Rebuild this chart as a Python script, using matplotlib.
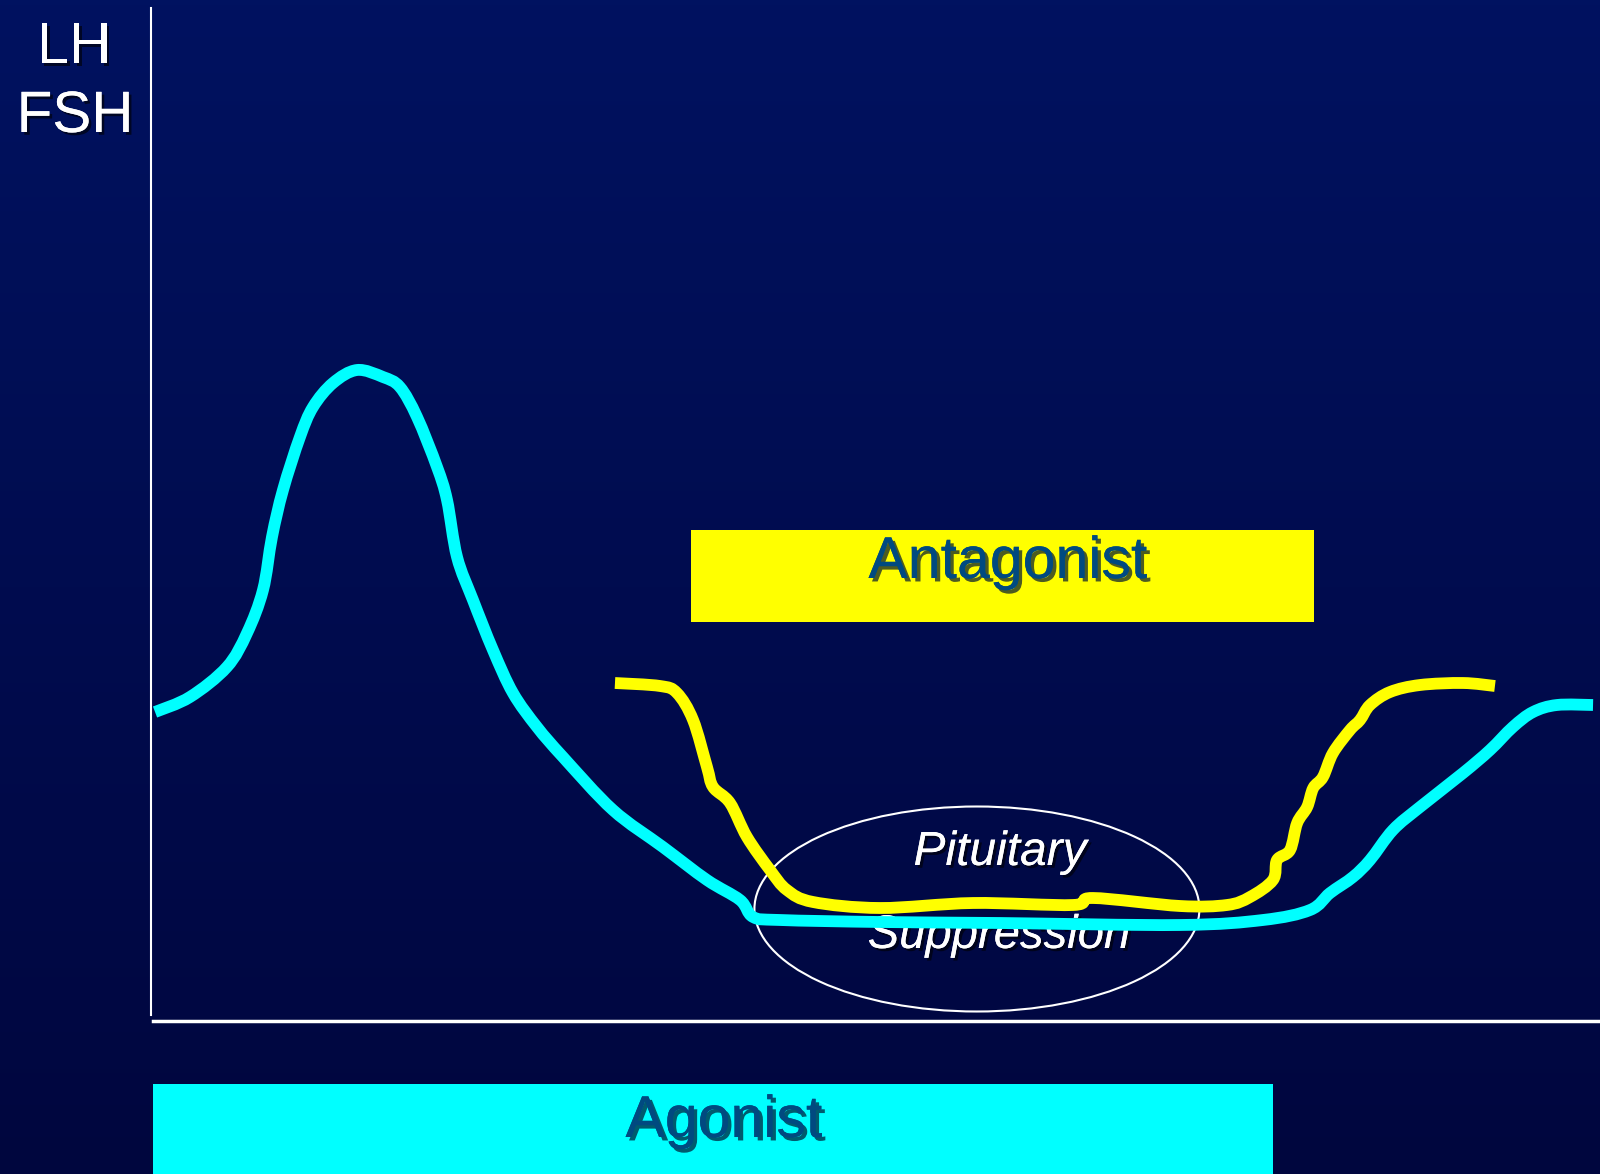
import numpy as np
import matplotlib
matplotlib.use("Agg")
import matplotlib.pyplot as plt
from matplotlib.patches import Ellipse, PathPatch
from matplotlib.path import Path
import matplotlib.patheffects as pe

plt.rcParams['font.family'] = ['Liberation Sans', 'DejaVu Sans']

# LH/FSH with agonist (cyan): flare-up, then suppression, then recovery
agonist_x = [0.28, 2.69, 5.24, 6.63, 7.73, 8.35, 9.11, 10.28, 11.18, 12.56, 14.22,
             16.01, 17.18, 18.36, 19.74, 20.43, 21.12, 22.22, 23.60, 24.98, 26.64,
             28.43, 31.88, 35.33, 38.37, 40.65, 41.55, 43.41, 50.31, 58.59, 71.01,
             76.74, 79.99, 81.37, 82.95, 84.13, 85.71, 87.58, 90.55, 92.41, 93.99,
             95.38, 97.03, 99.52]
agonist_y = [30.9, 32.4, 35.4, 38.8, 43.1, 48.4, 53.1, 58.4, 61.4, 63.8, 65.1,
             64.4, 63.4, 60.4, 55.4, 52.1, 46.4, 42.1, 37.1, 32.8, 29.4,
             26.4, 21.1, 17.4, 14.1, 12.1, 10.4, 10.1, 9.9, 9.8, 9.6,
             10.1, 11.1, 12.8, 14.4, 16.1, 19.1, 21.4, 24.8, 27.1, 29.4,
             30.9, 31.6, 31.6]

# LH/FSH with antagonist (yellow): immediate suppression, then recovery
antag_x = [32.02, 35.13, 36.30, 37.41, 38.37, 38.79, 39.96, 41.13, 42.72, 43.89,
           45.69, 50.31, 56.73, 63.63, 65.01, 71.01, 74.26, 75.85, 77.43, 77.71,
           78.61, 79.10, 79.79, 80.21, 80.88, 81.57, 82.75, 83.44, 84.13, 85.51,
           87.58, 90.55, 92.75]
antag_y = [33.8, 33.5, 32.8, 30.1, 25.4, 23.4, 21.8, 18.4, 15.1, 13.1,
           11.9, 11.3, 11.8, 11.6, 12.3, 11.5, 11.6, 12.4, 14.1, 16.1,
           17.1, 19.8, 21.4, 23.3, 24.4, 26.8, 29.1, 30.1, 31.6, 32.9,
           33.6, 33.8, 33.5]

# treatment periods
treatments = ['Antagonist', 'Agonist']
treat_start = [37.27, 0.14]
treat_end = [80.26, 77.43]
treat_low = [39.9, -15.3]
treat_high = [49.1, -6.3]
treat_colors = ['#FFFF00', '#00FFFF']
label_x = [59.14, 39.54]
label_y = [44.3, -11.6]


def smooth_path(xs, ys):
    # Catmull-Rom through the read points, drawn as cubic Bezier segments
    p = np.column_stack([xs, ys]).astype(float)
    p = np.vstack([p[0], p, p[-1]])
    verts = [p[1]]
    codes = [Path.MOVETO]
    for i in range(1, len(p) - 2):
        c1 = p[i] + (p[i + 1] - p[i - 1]) / 6
        c2 = p[i + 1] - (p[i + 2] - p[i]) / 6
        verts += [c1, c2, p[i + 1]]
        codes += [Path.CURVE4] * 3
    return Path(verts, codes)


fig = plt.figure(figsize=(16, 11.74), dpi=100)
ax = fig.add_axes([0, 0, 1, 1])
xmin, xmax = -10.42, 100
ymin, ymax = -15.3, 102.1

# background gradient
grad = np.linspace(0, 1, 256).reshape(-1, 1)
top = np.array([0, 18, 96]) / 255
bottom = np.array([0, 6, 62]) / 255
img = top + (bottom - top) * grad[:, :, None]
ax.imshow(img, extent=[xmin, xmax, ymin, ymax], aspect='auto', zorder=0)

shadow = [pe.withSimplePatchShadow(offset=(2, -2), shadow_rgbFace='black', alpha=0.6), pe.Normal()]

# axes lines
ax.plot([0, 0], [0.6, 101.3], color='white', lw=1.5, zorder=2)
ax.plot([0.14, xmax], [0, 0], color='white', lw=2.5, zorder=2)

# treatment bars
for name, s, e, lo, hi, c, tx, ty in zip(treatments, treat_start, treat_end, treat_low,
                                         treat_high, treat_colors, label_x, label_y):
    ax.barh((lo + hi) / 2, e - s, left=s, height=hi - lo, color=c, zorder=2)
    ax.text(tx, ty, name, ha='center', va='baseline', fontsize=42.5, color='#004A80',
            path_effects=[pe.withSimplePatchShadow(offset=(2.5, -2.5), shadow_rgbFace='#001530', alpha=0.7),
                          pe.Normal()], zorder=3)

# pituitary suppression ellipse
ax.add_patch(Ellipse((57.0, 11.2), 30.71, 20.5, fill=False, edgecolor='white', lw=1.5, zorder=2))
ax.text(58.59, 15.6, 'Pituitary', ha='center', va='baseline', fontsize=34.5, style='italic',
        color='white', path_effects=shadow, zorder=3)
ax.text(58.52, 7.3, 'Suppression', ha='center', va='baseline', fontsize=34, style='italic',
        color='white', path_effects=shadow, zorder=3)

# hormone curves
ax.add_patch(PathPatch(smooth_path(agonist_x, agonist_y), fill=False, edgecolor='#00FFFF',
                       lw=8.5, joinstyle='round', capstyle='butt', zorder=4))
ax.add_patch(PathPatch(smooth_path(antag_x, antag_y), fill=False, edgecolor='#FFFF00',
                       lw=8.5, joinstyle='round', capstyle='butt', zorder=5))

# y label
ax.text(-5.31, 95.8, 'LH', ha='center', va='baseline', fontsize=42, color='white', path_effects=shadow)
ax.text(-5.24, 88.9, 'FSH', ha='center', va='baseline', fontsize=42, color='white', path_effects=shadow)

ax.set_xlim(xmin, xmax)
ax.set_ylim(ymin, ymax)
ax.axis('off')

fig.savefig('out.png', dpi=100)
